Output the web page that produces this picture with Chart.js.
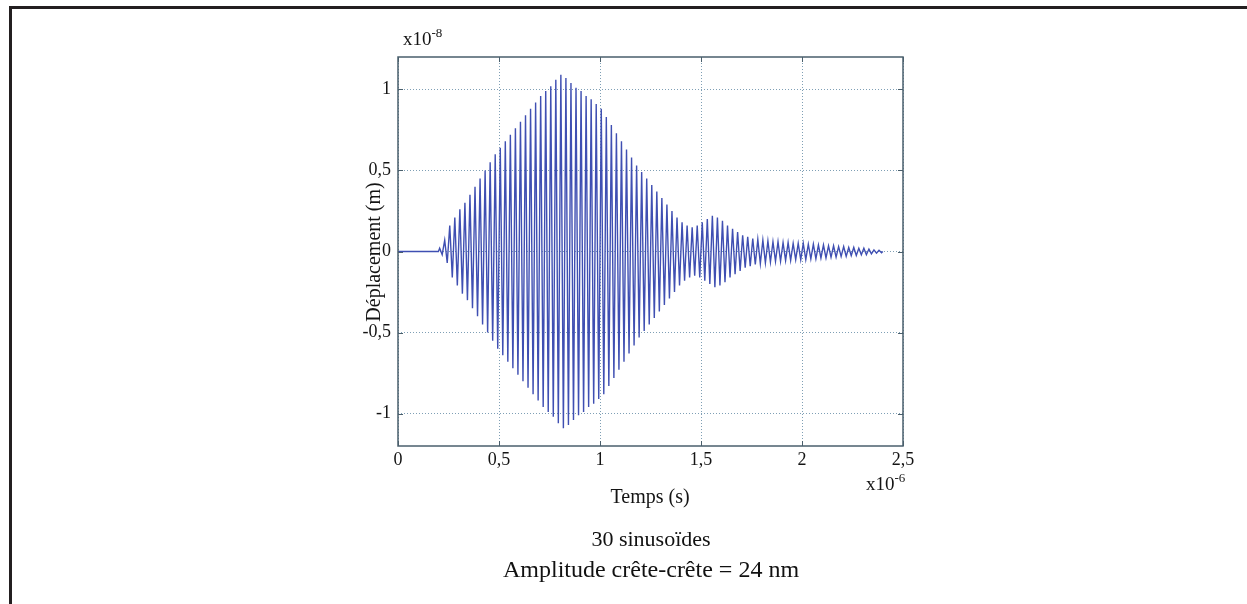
<!DOCTYPE html>
<html>
<head>
<meta charset="utf-8">
<script src="https://cdn.jsdelivr.net/npm/chart.js@4/dist/chart.umd.min.js"></script>
<style>
  html, body { margin: 0; padding: 0; background: #ffffff; }
  #wrap { position: relative; width: 1247px; height: 604px; }
  canvas { position: absolute; left: 0; top: 0; }
</style>
</head>
<body>
<div id="wrap"><canvas id="c" width="1247" height="604"></canvas></div>
<script>
// ---- data (time in µs, displacement in 1e-8 m) ----
const xTickValues = [0, 0.5, 1, 1.5, 2, 2.5];
const xTickLabels = ['0', '0,5', '1', '1,5', '2', '2,5'];
const yTickValues = [-1, -0.5, 0, 0.5, 1];
const yTickLabels = ['-1', '-0,5', '0', '0,5', '1'];

const signalStart = 0.2;     // µs, start of the burst
const signalPeriod = 0.025;  // µs, one oscillation
const signalEnd = 2.4;       // µs
// peak amplitude of each oscillation cycle, read from the envelope
const cycleAmplitude = [
  0.02, 0.07, 0.16, 0.21, 0.26, 0.30, 0.35, 0.40, 0.45, 0.50,
  0.55, 0.60, 0.64, 0.68, 0.72, 0.76, 0.80, 0.84, 0.88, 0.92,
  0.96, 0.99, 1.02, 1.06, 1.09, 1.07, 1.04, 1.01, 0.99, 0.96,
  0.94, 0.91, 0.88, 0.83, 0.78, 0.73, 0.68, 0.63, 0.58, 0.53,
  0.49, 0.45, 0.41, 0.37, 0.33, 0.29, 0.25, 0.21, 0.18, 0.16,
  0.15, 0.16, 0.18, 0.20, 0.22, 0.21, 0.19, 0.16, 0.14, 0.12,
  0.10, 0.09, 0.08, 0.075, 0.07, 0.065, 0.06, 0.06, 0.055, 0.055,
  0.05, 0.05, 0.05, 0.045, 0.045, 0.04, 0.04, 0.035, 0.035, 0.03,
  0.03, 0.025, 0.025, 0.02, 0.02, 0.015, 0.01, 0.008
];

const yExponentText = ['x10', '-8'];
const xExponentText = ['x10', '-6'];
const xTitle = 'Temps (s)';
const yTitle = 'Déplacement (m)';
const captionLines = ['30 sinusoïdes', 'Amplitude crête-crête = 24 nm'];

// ---- build points ----
const points = [{ x: 0, y: 0 }, { x: signalStart, y: 0 }];
cycleAmplitude.forEach((a, k) => {
  const t0 = signalStart + k * signalPeriod;
  points.push({ x: t0 + signalPeriod * 0.25, y: a });
  points.push({ x: t0 + signalPeriod * 0.75, y: -a });
});
points.push({ x: signalEnd, y: 0 });

const SERIF = '"Liberation Serif", "Times New Roman", serif';
const TEXT = '#141414';

const decor = {
  id: 'decor',
  afterDraw(chart) {
    const ctx = chart.ctx;
    const a = chart.chartArea;
    const xs = chart.scales.x, ys = chart.scales.y;
    ctx.save();
    // outer page frame (top + left)
    ctx.strokeStyle = '#231f20';
    ctx.lineWidth = 3;
    ctx.beginPath();
    ctx.moveTo(10.5, 604);
    ctx.lineTo(10.5, 7.5);
    ctx.lineTo(1247, 7.5);
    ctx.stroke();

    // plot frame
    ctx.strokeStyle = '#4a5f6c';
    ctx.lineWidth = 1.5;
    ctx.strokeRect(a.left, a.top, a.right - a.left, a.bottom - a.top);

    // inward ticks on all sides
    ctx.lineWidth = 1;
    ctx.beginPath();
    xTickValues.forEach(v => {
      const px = Math.round(xs.getPixelForValue(v)) + 0.5;
      ctx.moveTo(px, a.bottom); ctx.lineTo(px, a.bottom - 5);
      ctx.moveTo(px, a.top); ctx.lineTo(px, a.top + 5);
    });
    yTickValues.forEach(v => {
      const py = Math.round(ys.getPixelForValue(v)) + 0.5;
      ctx.moveTo(a.left, py); ctx.lineTo(a.left + 5, py);
      ctx.moveTo(a.right, py); ctx.lineTo(a.right - 5, py);
    });
    ctx.stroke();

    ctx.fillStyle = TEXT;
    // tick labels
    ctx.font = '18px ' + SERIF;
    ctx.textAlign = 'center';
    ctx.textBaseline = 'alphabetic';
    xTickValues.forEach((v, i) => {
      ctx.fillText(xTickLabels[i], xs.getPixelForValue(v), a.bottom + 19);
    });
    ctx.textAlign = 'right';
    ctx.textBaseline = 'middle';
    yTickValues.forEach((v, i) => {
      ctx.fillText(yTickLabels[i], a.left - 7, ys.getPixelForValue(v));
    });

    ctx.textBaseline = 'alphabetic';
    // exponent labels
    const drawExp = (parts, x, y) => {
      ctx.textAlign = 'left';
      ctx.font = '19px ' + SERIF;
      ctx.fillText(parts[0], x, y);
      const w = ctx.measureText(parts[0]).width;
      ctx.font = '13px ' + SERIF;
      ctx.fillText(parts[1], x + w, y - 8);
    };
    drawExp(yExponentText, 403, 45);
    drawExp(xExponentText, 866, 490);

    // axis titles
    ctx.font = '20px ' + SERIF;
    ctx.textAlign = 'center';
    ctx.fillText(xTitle, 650, 503);
    ctx.save();
    ctx.translate(375, 252);
    ctx.rotate(-Math.PI / 2);
    ctx.textBaseline = 'middle';
    ctx.font = '20px ' + SERIF;
    ctx.fillText(yTitle, 0, 0);
    ctx.restore();

    // caption
    ctx.fillStyle = '#111111';
    ctx.textAlign = 'center';
    ctx.font = '22px ' + SERIF;
    ctx.fillText(captionLines[0], 651, 546);
    ctx.font = '24px ' + SERIF;
    ctx.fillText(captionLines[1], 651, 577);
    ctx.restore();
  }
};

new Chart(document.getElementById('c'), {
  type: 'line',
  data: {
    datasets: [{
      data: points,
      borderColor: '#3f4fb2',
      borderWidth: 1.4,
      pointRadius: 0,
      tension: 0,
      fill: false
    }]
  },
  options: {
    responsive: false,
    animation: false,
    parsing: false,
    normalized: true,
    layout: { padding: { left: 398, right: 344, top: 57, bottom: 158 } },
    plugins: { legend: { display: false }, tooltip: { enabled: false }, title: { display: false } },
    scales: {
      x: {
        type: 'linear',
        min: 0, max: 2.5,
        afterFit: s => { s.height = 0; },
        afterBuildTicks: s => { s.ticks = xTickValues.map(v => ({ value: v })); },
        ticks: { display: false },
        grid: { color: '#7f9fb5', lineWidth: 1, drawTicks: false },
        border: { display: false, dash: [1, 2] }
      },
      y: {
        type: 'linear',
        min: -1.2, max: 1.2,
        afterFit: s => { s.width = 0; },
        afterBuildTicks: s => { s.ticks = yTickValues.map(v => ({ value: v })); },
        ticks: { display: false },
        grid: { color: '#7f9fb5', lineWidth: 1, drawTicks: false },
        border: { display: false, dash: [1, 2] }
      }
    }
  },
  plugins: [decor]
});
</script>
</body>
</html>
